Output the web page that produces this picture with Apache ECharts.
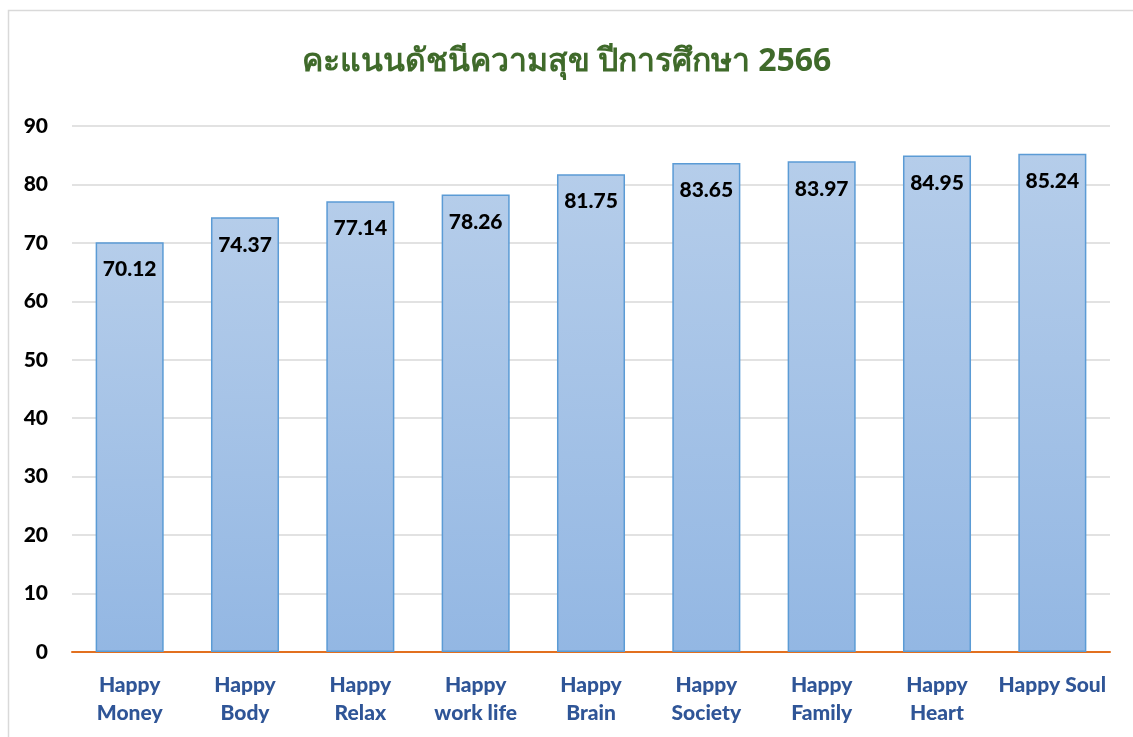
<!DOCTYPE html>
<html>
<head>
<meta charset="utf-8">
<script src="https://cdn.jsdelivr.net/npm/echarts@6/dist/echarts.min.js"></script>
<style>
html,body{margin:0;padding:0;background:#fff;}
#chart{width:1133px;height:737px;}
</style>
</head>
<body>
<div id="chart"></div>
<script>
const titleText = 'คะแนนดัชนีความสุข ปีการศึกษา 2566';
const categories = ['Happy\nMoney', 'Happy\nBody', 'Happy\nRelax', 'Happy\nwork life', 'Happy\nBrain', 'Happy\nSociety', 'Happy\nFamily', 'Happy\nHeart', 'Happy Soul'];
const scores = [70.12, 74.37, 77.14, 78.26, 81.75, 83.65, 83.97, 84.95, 85.24];
const yTicks = { min: 0, max: 90, interval: 10 };

const chart = echarts.init(document.getElementById('chart'));
const font = "Lato, 'Noto Sans', 'Liberation Sans', sans-serif";
chart.setOption({
  backgroundColor: '#ffffff',
  animation: false,
  graphic: [{
    type: 'rect',
    shape: { x: 8.5, y: 10.5, width: 1300, height: 900 },
    style: { fill: 'none', stroke: '#d9d9d9', lineWidth: 1.5 },
    silent: true
  }],
  title: {
    text: titleText,
    left: 'center',
    top: 41,
    textStyle: { fontFamily: "'Noto Sans', sans-serif", fontSize: 32, fontWeight: 'bold', color: '#3f6a2a' }
  },
  grid: { left: 72, right: 23, top: 126, bottom: 85, containLabel: false },
  xAxis: {
    type: 'category',
    data: categories,
    axisLine: { lineStyle: { color: '#e2701f', width: 2 } },
    axisTick: { show: false },
    axisLabel: {
      interval: 0,
      margin: 19,
      fontFamily: font,
      fontSize: 21,
      fontWeight: 900,
      color: '#2f5597',
      lineHeight: 28
    }
  },
  yAxis: {
    type: 'value',
    min: yTicks.min,
    max: yTicks.max,
    interval: yTicks.interval,
    axisLine: { show: false },
    axisTick: { show: false },
    splitLine: { lineStyle: { color: '#d9d9d9', width: 1.5 } },
    axisLabel: { margin: 24, fontFamily: font, fontSize: 21, fontWeight: 900, color: '#000' }
  },
  series: [{
    type: 'bar',
    data: scores,
    barWidth: '59%',
    itemStyle: {
      color: new echarts.graphic.LinearGradient(0, 0, 0, 1, [
        { offset: 0, color: '#b5cdea' },
        { offset: 1, color: '#93b7e3' }
      ]),
      borderColor: '#5b9bd5',
      borderWidth: 1.5
    },
    label: {
      show: true,
      position: 'insideTop',
      distance: 17,
      fontFamily: font,
      fontSize: 21,
      fontWeight: 900,
      color: '#000',
      formatter: p => p.value.toFixed(2)
    }
  }]
});
</script>
</body>
</html>
